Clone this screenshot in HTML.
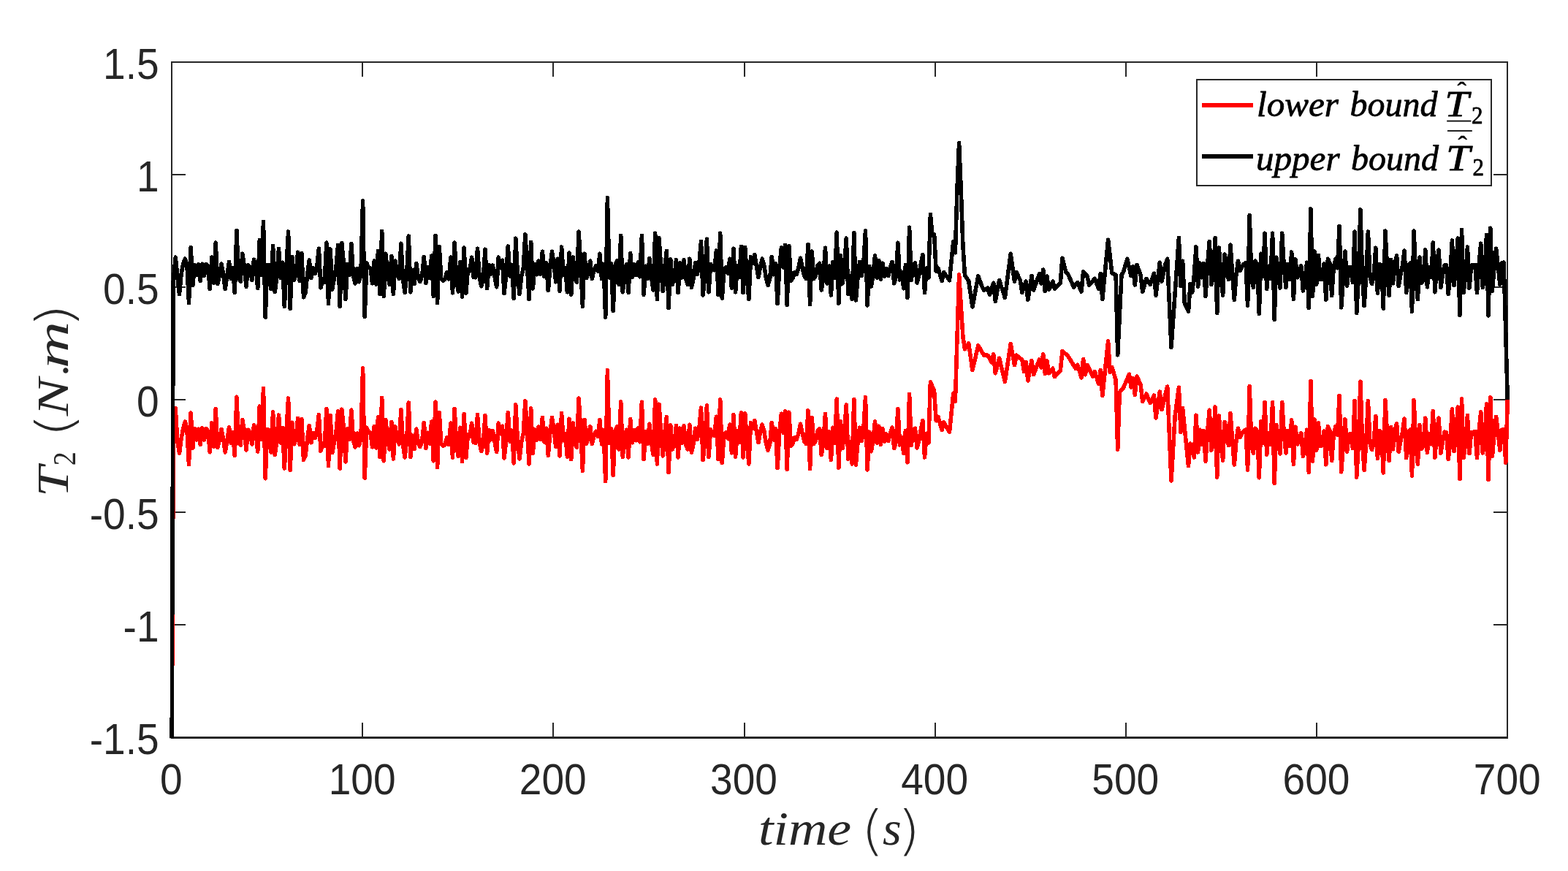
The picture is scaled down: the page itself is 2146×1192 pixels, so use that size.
<!DOCTYPE html>
<html>
<head>
<meta charset="utf-8">
<title>T2 bounds</title>
<style>
html,body{margin:0;padding:0;background:#fff;}
body{width:2146px;height:1192px;}
svg{display:block;}
.tick{font-family:"Liberation Sans",sans-serif;font-size:58px;fill:#262626;}
.it{font-family:"Liberation Serif",serif;font-style:italic;fill:#262626;}
.pa{font-family:"DejaVu Sans",sans-serif;font-weight:200;font-style:normal;fill:#262626;}
.rm{font-family:"Liberation Serif",serif;font-style:normal;fill:#262626;}
.leg{fill:#000;stroke:#000;stroke-width:0.8px;stroke-linejoin:round;}
#xlabel,#ylabel{stroke:none;}
.leg.hat{stroke-width:0.5px;}
</style>
</head>
<body>
<svg width="2146" height="1192" viewBox="0 0 2146 1192">
<rect x="0" y="0" width="2146" height="1192" fill="#fff"/>
<defs><clipPath id="ax"><rect x="225" y="80" width="1850" height="930.2"/></clipPath></defs>
<!-- axes box -->
<g stroke="#262626" stroke-width="2" fill="none" stroke-linecap="butt" shape-rendering="crispEdges">
<rect x="235" y="85" width="1828.3" height="924"/>
<path d="M234 1010.5H2064.3" stroke-width="1"/>
<!-- x ticks bottom/top -->
<path d="M496.2 1009v-20M757.4 1009v-20M1018.6 1009v-20M1279.7 1009v-20M1540.9 1009v-20M1802.1 1009v-20"/>
<path d="M496.2 85v20M757.4 85v20M1018.6 85v20M1279.7 85v20M1540.9 85v20M1802.1 85v20"/>
<!-- y ticks left/right -->
<path d="M235 239h19M235 393h19M235 547h19M235 701h19M235 855h19"/>
<path d="M2063.3 239h-19M2063.3 393h-19M2063.3 547h-19M2063.3 701h-19M2063.3 855h-19"/>
</g>
<!-- data -->
<g clip-path="url(#ax)" fill="none" stroke-width="5.56" stroke-linejoin="round" stroke-linecap="butt" shape-rendering="crispEdges">
<polyline stroke="#ff0000" points="236.0,911.3 237.2,588.0 240.2,558.6 242.8,603.5 245.5,620.3 248.1,600.2 250.7,586.2 253.3,577.1 255.9,587.1 258.5,635.7 261.2,564.9 263.8,613.3 266.4,586.6 269.0,601.8 271.6,587.3 274.2,608.4 276.8,585.9 279.5,602.0 282.1,586.5 284.7,590.0 287.3,618.9 289.9,578.9 292.5,611.1 295.2,559.7 297.8,612.4 300.4,601.8 303.0,587.4 305.6,600.1 308.2,618.9 310.9,602.7 313.5,584.7 316.1,606.7 318.7,591.9 321.3,623.5 323.9,543.2 326.5,605.0 329.2,609.2 331.8,574.3 334.4,589.5 337.0,615.9 339.6,588.1 342.2,591.3 344.9,607.9 347.5,581.7 350.1,589.4 352.7,618.0 355.3,556.0 357.9,601.6 360.5,531.6 363.2,654.8 365.8,587.8 368.4,588.7 371.0,618.9 373.6,563.8 376.2,622.8 378.9,603.3 381.5,568.0 384.1,606.0 386.7,585.4 389.3,641.1 391.9,591.3 394.6,545.0 397.2,643.7 399.8,578.2 402.4,607.9 405.0,601.3 407.6,572.4 410.2,608.5 412.9,573.7 415.5,629.4 418.1,623.5 420.7,600.7 423.3,582.4 425.9,605.8 428.6,592.4 431.2,599.4 433.8,589.8 436.4,567.7 439.0,617.2 441.6,606.7 444.2,610.5 446.9,559.7 449.5,637.6 452.1,568.4 454.7,619.6 457.3,606.2 459.9,592.0 462.6,562.9 465.2,641.1 467.8,560.1 470.4,586.0 473.0,632.0 475.6,586.8 478.3,601.5 480.9,561.1 483.5,602.7 486.1,611.8 488.7,593.0 491.3,609.8 493.9,601.0 496.6,503.7 499.2,654.1 501.8,585.2 504.4,592.2 507.0,592.1 509.6,611.8 512.3,583.4 514.9,613.1 517.5,570.7 520.1,625.4 522.7,544.3 525.3,630.8 527.9,574.3 530.6,601.6 533.2,615.1 535.8,577.4 538.4,628.1 541.0,583.9 543.6,601.5 546.3,607.8 548.9,560.7 551.5,608.6 554.1,626.0 556.7,601.7 559.3,550.9 561.9,625.3 564.6,596.1 567.2,614.4 569.8,587.0 572.4,606.4 575.0,611.3 577.6,603.6 580.3,578.4 582.9,613.5 585.5,592.2 588.1,606.8 590.7,577.0 593.3,630.8 596.0,550.0 598.6,639.6 601.2,564.8 603.8,607.2 606.4,610.3 609.0,608.6 611.6,598.8 614.3,608.3 616.9,579.1 619.5,626.3 622.1,559.6 624.7,608.4 627.3,624.6 630.0,585.2 632.6,631.7 635.2,566.4 637.8,626.7 640.4,594.8 643.0,597.4 645.6,579.1 648.3,605.6 650.9,606.2 653.5,567.5 656.1,604.3 658.7,617.6 661.3,607.8 664.0,568.5 666.6,620.3 669.2,588.8 671.8,601.7 674.4,589.7 677.0,604.7 679.7,618.5 682.3,579.1 684.9,592.9 687.5,583.2 690.1,627.1 692.7,602.4 695.3,564.5 698.0,604.2 700.6,589.3 703.2,633.9 705.8,553.9 708.4,601.8 711.0,628.1 713.7,604.7 716.3,593.0 718.9,548.8 721.5,590.1 724.1,634.9 726.7,558.9 729.3,620.6 732.0,588.0 734.6,602.2 737.2,583.9 739.8,601.5 742.4,571.3 745.0,605.0 747.7,586.1 750.3,623.3 752.9,592.3 755.5,571.3 758.1,588.4 760.7,611.7 763.3,581.1 766.0,624.0 768.6,565.5 771.2,602.9 773.8,593.4 776.4,625.3 779.0,573.2 781.7,628.7 784.3,579.1 786.9,607.8 789.5,612.4 792.1,545.0 794.7,587.8 797.4,644.4 800.0,574.3 802.6,607.1 805.2,598.7 807.8,583.9 810.4,607.6 813.0,595.4 815.7,590.2 818.3,597.4 820.9,574.3 823.5,607.9 826.1,588.3 828.7,658.7 831.4,506.7 834.0,606.4 836.6,587.0 839.2,650.6 841.8,590.1 844.4,583.9 847.0,615.1 849.7,550.0 852.3,625.3 854.9,600.2 857.5,588.1 860.1,626.0 862.7,573.6 865.4,605.9 868.0,588.5 870.6,602.8 873.2,585.9 875.8,604.9 878.4,550.2 881.1,628.7 883.7,590.6 886.3,607.6 888.9,580.2 891.5,606.1 894.1,622.6 896.7,547.0 899.4,634.9 902.0,553.2 904.6,592.1 907.2,624.0 909.8,592.1 912.4,570.5 915.1,646.5 917.7,581.8 920.3,615.1 922.9,607.0 925.5,582.5 928.1,626.0 930.7,586.1 933.4,606.3 936.0,582.5 938.6,608.4 941.2,615.1 943.8,581.1 946.4,619.2 949.1,607.3 951.7,586.2 954.3,601.5 956.9,587.0 959.5,558.0 962.1,629.4 964.8,604.0 967.4,554.8 970.0,625.3 972.6,587.7 975.2,594.8 977.8,596.1 980.4,570.2 983.1,628.7 985.7,547.0 988.3,633.5 990.9,595.4 993.5,591.9 996.1,600.1 998.8,581.1 1001.4,619.9 1004.0,567.5 1006.6,625.3 1009.2,589.8 1011.8,605.6 1014.4,564.8 1017.1,626.0 1019.7,565.7 1022.3,605.2 1024.9,634.9 1027.5,578.4 1030.1,586.7 1032.8,575.4 1035.4,590.8 1038.0,605.6 1040.6,591.5 1043.2,581.1 1045.8,590.1 1048.4,606.4 1051.1,616.2 1053.7,607.3 1056.3,578.4 1058.9,602.1 1061.5,586.9 1064.1,640.7 1066.8,592.1 1069.4,566.1 1072.0,592.4 1074.6,562.7 1077.2,642.4 1079.8,564.1 1082.5,610.3 1085.1,606.8 1087.7,598.9 1090.3,601.5 1092.9,593.0 1095.5,580.2 1098.1,592.6 1100.8,604.0 1103.4,607.6 1106.0,561.8 1108.6,641.7 1111.2,571.3 1113.8,607.6 1116.5,603.0 1119.1,589.7 1121.7,587.0 1124.3,622.6 1126.9,604.7 1129.5,566.5 1132.1,613.7 1134.8,590.7 1137.4,629.4 1140.0,585.2 1142.6,606.4 1145.2,546.1 1147.8,640.3 1150.5,576.8 1153.1,613.7 1155.7,588.7 1158.3,553.9 1160.9,628.1 1163.5,604.3 1166.2,634.9 1168.8,546.4 1171.4,636.2 1174.0,605.5 1176.6,585.2 1179.2,603.5 1181.8,588.0 1184.5,543.6 1187.1,643.1 1189.7,591.1 1192.3,617.8 1194.9,603.4 1197.5,576.8 1200.2,606.2 1202.8,583.2 1205.4,608.5 1208.0,586.6 1210.6,604.2 1213.2,594.1 1215.8,603.5 1218.5,592.5 1221.1,585.2 1223.7,613.7 1226.3,604.9 1228.9,559.7 1231.5,609.0 1234.2,598.8 1236.8,620.6 1239.4,589.3 1242.0,632.8 1244.6,539.3 1247.2,609.7 1249.9,588.2 1252.5,586.3 1255.1,613.1 1257.7,603.0 1260.3,588.0 1262.9,575.4 1265.5,626.0 1268.2,593.4 1270.8,606.2 1273.4,522.9 1278.6,534.6 1281.2,575.9 1283.9,570.3 1289.1,588.5 1291.7,578.0 1299.5,591.3 1304.8,538.1 1307.4,549.3 1312.6,375.7 1317.9,461.0 1320.5,477.9 1325.7,470.1 1330.9,506.6 1338.8,472.9 1346.6,486.2 1351.9,486.2 1357.1,496.1 1359.7,484.8 1362.3,510.8 1367.6,490.1 1375.4,522.4 1383.2,470.8 1388.5,499.6 1391.1,486.2 1398.9,492.5 1401.6,508.7 1404.2,495.3 1406.8,521.0 1412.0,493.5 1414.6,512.6 1422.5,492.1 1425.1,503.1 1427.7,484.8 1430.3,511.5 1432.9,493.9 1435.6,510.8 1440.8,504.2 1443.4,515.7 1451.3,507.3 1453.9,480.3 1461.7,487.3 1472.2,504.5 1474.8,499.2 1480.0,516.8 1482.6,491.5 1485.3,512.9 1487.9,499.5 1495.7,515.0 1498.3,508.4 1503.6,525.5 1506.2,506.5 1508.8,541.6 1516.6,466.9 1519.3,509.6 1521.9,502.5 1527.1,520.1 1529.7,615.1 1532.3,536.9 1537.6,530.5 1545.4,512.3 1548.0,529.9 1550.6,517.9 1553.3,540.4 1555.9,515.1 1561.1,526.3 1563.7,549.5 1569.0,539.0 1574.2,551.6 1579.4,541.1 1582.0,571.9 1587.3,536.1 1589.9,560.7 1597.7,529.1 1603.0,658.0 1608.2,569.1 1613.4,530.1 1616.0,591.5 1618.6,558.6 1626.5,637.7 1629.1,607.1 1631.7,615.6 1634.3,626.1 1637.0,568.2 1639.6,618.9 1642.2,588.2 1644.8,608.1 1647.4,589.5 1650.0,631.4 1652.7,589.4 1655.3,561.2 1657.9,616.2 1660.5,607.1 1663.1,556.9 1665.7,653.1 1668.3,569.1 1671.0,604.1 1673.6,630.3 1676.2,577.7 1678.8,591.2 1681.4,609.7 1684.0,565.6 1686.7,603.7 1689.3,636.0 1691.9,604.1 1694.5,586.2 1697.1,598.5 1699.7,593.4 1702.3,590.2 1705.0,587.9 1707.6,643.2 1710.2,528.3 1712.8,610.5 1715.4,620.2 1718.0,586.2 1720.7,589.9 1723.3,653.8 1725.9,577.0 1728.5,606.4 1731.1,550.6 1733.7,622.1 1736.4,592.6 1739.0,608.3 1741.6,550.6 1744.2,661.6 1746.8,581.6 1749.4,606.1 1752.0,620.8 1754.7,550.6 1757.3,593.5 1759.9,620.1 1762.5,589.6 1765.1,610.4 1767.7,575.0 1770.4,635.3 1773.0,584.2 1775.6,608.0 1778.2,600.4 1780.8,592.8 1783.4,624.4 1786.0,610.2 1788.7,588.2 1791.3,646.5 1793.9,521.3 1796.5,631.3 1799.1,573.9 1801.7,616.2 1804.4,578.9 1807.0,610.5 1809.6,609.6 1812.2,589.9 1814.8,635.9 1817.4,583.6 1820.0,588.8 1822.7,630.7 1825.3,594.0 1827.9,583.6 1830.5,595.1 1833.1,541.4 1835.7,645.8 1838.4,609.4 1841.0,573.9 1843.6,618.2 1846.2,594.3 1848.8,594.1 1851.4,613.6 1854.1,548.6 1856.7,653.1 1859.3,608.3 1861.9,522.2 1864.5,603.3 1867.1,643.8 1869.7,605.4 1872.4,548.6 1875.0,607.0 1877.6,615.5 1880.2,605.6 1882.8,569.5 1885.4,627.4 1888.1,589.6 1890.7,592.1 1893.3,647.1 1895.9,547.7 1898.5,594.0 1901.1,630.7 1903.7,584.6 1906.4,614.9 1909.0,588.8 1911.6,579.6 1914.2,618.2 1916.8,604.7 1919.4,591.7 1922.1,573.0 1924.7,626.7 1927.3,592.1 1929.9,588.2 1932.5,651.1 1935.1,547.7 1937.8,609.2 1940.4,635.3 1943.0,581.6 1945.6,614.2 1948.2,610.2 1950.8,572.1 1953.4,619.5 1956.1,593.7 1958.7,607.8 1961.3,562.7 1963.9,626.1 1966.5,591.4 1969.1,572.1 1971.8,620.1 1974.4,604.6 1977.0,591.2 1979.6,591.7 1982.2,628.7 1984.8,604.6 1987.4,559.8 1990.1,617.5 1992.7,592.5 1995.3,557.2 1997.9,655.7 2000.5,546.0 2003.1,626.7 2005.8,605.1 2008.4,568.4 2011.0,620.7 2013.6,591.4 2016.2,591.4 2018.8,590.6 2021.5,626.7 2024.1,590.3 2026.7,563.8 2029.3,620.1 2031.9,608.3 2034.5,552.6 2037.1,656.3 2039.8,544.0 2042.4,624.7 2045.0,594.6 2047.6,570.4 2050.2,591.4 2052.8,616.1 2055.5,588.0 2058.1,588.1 2060.8,633.0 2063.3,547.0"/>
<polyline stroke="#000000" points="235.2,1012.0 237.2,385.0 240.2,352.1 242.8,378.3 245.5,402.6 248.1,375.0 250.7,361.0 253.3,354.2 255.9,361.8 258.5,414.5 261.2,338.8 263.8,390.7 266.4,362.6 269.0,376.6 271.6,362.0 274.2,384.4 276.8,361.2 279.5,377.4 282.1,361.3 284.7,364.0 287.3,395.6 289.9,352.1 292.5,387.2 295.2,332.1 297.8,388.6 300.4,376.6 303.0,361.2 305.6,374.9 308.2,395.6 310.9,377.4 313.5,358.4 316.1,381.5 318.7,366.6 321.3,400.5 323.9,315.3 326.5,379.8 329.2,385.1 331.8,347.2 334.4,364.2 337.0,392.4 339.6,362.9 342.2,365.4 344.9,383.7 347.5,355.2 350.1,364.1 352.7,394.6 355.3,328.3 357.9,376.4 360.5,303.4 363.2,434.1 365.8,362.6 368.4,362.6 371.0,395.6 373.6,336.3 376.2,399.8 378.9,378.0 381.5,340.5 384.1,380.8 386.7,359.1 389.3,419.4 391.9,366.1 394.6,317.1 397.2,422.2 399.8,351.4 402.4,383.7 405.0,376.1 407.6,345.1 410.2,384.4 412.9,346.5 415.5,406.8 418.1,400.5 420.7,375.5 423.3,355.9 425.9,380.5 428.6,366.9 431.2,374.6 433.8,364.5 436.4,340.2 439.0,393.8 441.6,381.4 444.2,386.5 446.9,332.1 449.5,415.7 452.1,340.9 454.7,396.3 457.3,381.0 459.9,366.8 462.6,335.3 465.2,419.4 467.8,332.5 470.4,360.8 473.0,409.6 475.6,361.5 478.3,376.3 480.9,333.5 483.5,377.5 486.1,387.9 488.7,367.3 491.3,385.8 493.9,375.8 496.6,274.9 499.2,433.4 501.8,359.9 504.4,366.4 507.0,366.9 509.6,387.9 512.3,357.0 514.9,389.3 517.5,343.3 520.1,402.6 522.7,316.4 525.3,405.4 527.9,347.2 530.6,375.2 533.2,389.3 535.8,350.5 538.4,402.6 541.0,357.0 543.6,375.3 546.3,381.4 548.9,333.2 551.5,382.2 554.1,400.5 556.7,375.3 559.3,323.1 561.9,399.8 564.6,369.7 567.2,388.6 569.8,360.3 572.4,380.0 575.0,385.4 577.6,377.3 580.3,351.4 582.9,387.6 585.5,365.8 588.1,380.4 590.7,350.0 593.3,405.4 596.0,322.3 598.6,414.5 601.2,337.4 603.8,380.8 606.4,384.4 609.0,382.2 611.6,372.5 614.3,382.0 616.9,352.1 619.5,400.8 622.1,332.1 624.7,382.0 627.3,399.1 630.0,358.4 632.6,406.4 635.2,339.1 637.8,401.2 640.4,368.3 643.0,371.1 645.6,352.1 648.3,379.5 650.9,379.8 653.5,340.2 656.1,377.9 658.7,391.8 661.3,381.5 664.0,341.2 666.6,394.6 669.2,362.4 671.8,375.3 674.4,363.1 677.0,378.3 679.7,392.8 682.3,352.1 684.9,366.6 687.5,356.3 690.1,401.6 692.7,376.0 695.3,337.1 698.0,378.1 700.6,362.6 703.2,408.6 705.8,326.2 708.4,375.4 711.0,402.6 713.7,378.3 716.3,366.7 718.9,321.0 721.5,363.7 724.1,409.6 726.7,331.4 729.3,394.9 732.0,361.6 734.6,375.8 737.2,357.0 739.8,375.3 742.4,344.2 745.0,378.7 747.7,359.7 750.3,397.7 752.9,365.9 755.5,344.2 758.1,362.0 760.7,385.8 763.3,354.2 766.0,398.4 768.6,338.1 771.2,376.5 773.8,367.1 776.4,399.8 779.0,346.1 781.7,403.3 784.3,352.1 786.9,381.4 789.5,386.5 792.1,317.1 794.7,361.4 797.4,419.4 800.0,347.2 802.6,380.7 805.2,372.5 807.8,357.0 810.4,381.6 813.0,369.0 815.7,363.8 818.3,371.1 820.9,347.2 823.5,381.5 826.1,361.9 828.7,434.1 831.4,270.7 834.0,380.0 836.6,360.6 839.2,425.7 841.8,363.7 844.4,357.0 847.0,389.3 849.7,322.3 852.3,399.8 854.9,373.9 857.5,361.7 860.1,400.5 862.7,346.5 865.4,379.5 868.0,362.1 870.6,376.7 873.2,359.1 875.8,378.8 878.4,322.4 881.1,403.3 883.7,364.2 886.3,381.3 888.9,353.3 891.5,379.8 894.1,397.0 896.7,319.2 899.4,409.6 902.0,325.5 904.6,365.7 907.2,398.4 909.8,365.7 912.4,343.3 915.1,421.5 917.7,354.9 920.3,389.3 922.9,380.7 925.5,355.6 928.1,400.5 930.7,359.7 933.4,380.0 936.0,355.6 938.6,382.1 941.2,389.3 943.8,354.2 946.4,393.5 949.1,380.9 951.7,359.4 954.3,375.3 956.9,360.7 959.5,330.4 962.1,404.0 964.8,377.6 967.4,327.2 970.0,399.8 972.6,361.3 975.2,368.3 977.8,369.7 980.4,343.0 983.1,403.3 985.7,319.2 988.3,408.2 990.9,369.0 993.5,365.6 996.1,373.9 998.8,354.2 1001.4,394.2 1004.0,340.2 1006.6,399.8 1009.2,363.4 1011.8,379.2 1014.4,337.4 1017.1,400.5 1019.7,338.4 1022.3,378.8 1024.9,409.6 1027.5,351.4 1030.1,360.4 1032.8,348.4 1035.4,364.4 1038.0,379.5 1040.6,365.1 1043.2,354.2 1045.8,363.7 1048.4,380.0 1051.1,390.4 1053.7,381.0 1056.3,351.4 1058.9,375.8 1061.5,360.5 1064.1,415.7 1066.8,365.7 1069.4,338.8 1072.0,366.0 1074.6,335.3 1077.2,417.3 1079.8,336.7 1082.5,384.4 1085.1,380.4 1087.7,372.5 1090.3,375.3 1092.9,366.6 1095.5,353.3 1098.1,366.2 1100.8,377.6 1103.4,381.6 1106.0,334.3 1108.6,416.6 1111.2,344.2 1113.8,381.6 1116.5,376.6 1119.1,363.3 1121.7,360.3 1124.3,397.0 1126.9,378.4 1129.5,339.2 1132.1,387.9 1134.8,364.0 1137.4,404.0 1140.0,358.4 1142.6,380.1 1145.2,318.2 1147.8,415.2 1150.5,349.8 1153.1,387.9 1155.7,362.4 1158.3,326.2 1160.9,402.6 1163.5,378.1 1166.2,409.6 1168.8,318.5 1171.4,411.0 1174.0,379.1 1176.6,358.4 1179.2,377.4 1181.8,361.6 1184.5,315.7 1187.1,418.0 1189.7,364.5 1192.3,392.1 1194.9,377.0 1197.5,349.8 1200.2,380.2 1202.8,356.3 1205.4,382.2 1208.0,360.2 1210.6,378.1 1213.2,367.5 1215.8,377.4 1218.5,366.1 1221.1,358.4 1223.7,387.9 1226.3,378.6 1228.9,332.2 1231.5,383.0 1234.2,372.5 1236.8,394.9 1239.4,362.6 1242.0,407.5 1244.6,311.2 1247.2,383.7 1249.9,361.9 1252.5,359.6 1255.1,387.2 1257.7,376.6 1260.3,361.6 1262.9,348.4 1265.5,400.5 1268.2,366.8 1270.8,380.2 1273.4,293.3 1276.0,322.0 1278.6,320.6 1281.2,371.1 1283.9,366.8 1289.1,384.4 1291.7,372.5 1299.5,383.7 1304.8,330.4 1307.4,345.9 1310.0,258.0 1312.6,195.6 1315.2,258.0 1317.9,336.0 1320.5,376.7 1325.7,384.4 1330.9,420.1 1338.8,377.8 1344.0,392.1 1346.6,397.0 1351.9,394.2 1354.5,403.3 1359.7,387.2 1362.3,412.4 1367.6,383.4 1375.4,407.5 1383.2,347.2 1388.5,385.1 1391.1,372.5 1396.3,383.7 1398.9,400.5 1404.2,385.1 1406.8,410.3 1412.0,377.4 1414.6,397.0 1422.5,374.6 1425.1,387.9 1427.7,369.0 1430.3,398.5 1432.9,378.1 1435.6,396.4 1440.8,385.1 1443.4,395.0 1451.3,387.3 1453.9,353.2 1459.1,373.2 1461.7,375.3 1469.6,392.9 1474.8,386.5 1480.0,399.2 1482.6,371.5 1487.9,377.4 1490.5,390.1 1498.3,381.3 1503.6,395.0 1506.2,374.3 1508.8,409.4 1516.6,328.1 1521.9,373.9 1527.1,376.0 1529.7,485.8 1535.0,376.0 1537.6,371.8 1542.8,354.3 1548.0,377.5 1550.6,364.8 1553.3,390.1 1555.9,362.4 1561.1,376.0 1563.7,399.2 1569.0,381.3 1574.2,389.4 1579.4,374.3 1582.0,404.4 1587.3,359.2 1589.9,385.2 1595.1,361.3 1597.7,354.3 1603.0,475.5 1613.4,325.3 1616.0,391.5 1618.6,357.1 1621.3,415.3 1626.5,426.2 1629.1,388.4 1631.7,399.9 1634.3,376.7 1637.0,337.9 1639.6,392.2 1642.2,360.1 1644.8,379.9 1647.4,360.6 1650.0,405.5 1652.7,361.2 1655.3,330.5 1657.9,389.4 1660.5,379.0 1663.1,325.9 1665.7,428.6 1668.3,338.9 1671.0,375.9 1673.6,404.4 1676.2,348.0 1678.8,363.1 1681.4,382.4 1684.0,335.1 1686.7,375.6 1689.3,410.4 1691.9,375.9 1694.5,357.1 1697.1,370.5 1699.7,365.3 1702.3,361.3 1705.0,359.7 1707.6,418.1 1710.2,294.3 1712.8,382.3 1715.4,393.6 1718.0,357.1 1720.7,361.8 1723.3,429.3 1725.9,347.2 1728.5,378.3 1731.1,319.2 1733.7,395.6 1736.4,364.1 1739.0,380.9 1741.6,319.2 1744.2,437.7 1746.8,352.1 1749.4,378.0 1752.0,394.2 1754.7,319.2 1757.3,365.4 1759.9,393.5 1762.5,361.5 1765.1,382.3 1767.7,345.1 1770.4,409.6 1773.0,354.9 1775.6,379.9 1778.2,372.5 1780.8,364.0 1783.4,398.0 1786.0,382.0 1788.7,359.1 1791.3,421.5 1793.9,285.9 1796.5,405.4 1799.1,344.0 1801.7,389.3 1804.4,349.3 1807.0,382.4 1809.6,382.3 1812.2,361.0 1814.8,410.3 1817.4,354.2 1820.0,360.6 1822.7,404.7 1825.3,365.8 1827.9,354.2 1830.5,366.9 1833.1,309.4 1835.7,420.8 1838.4,381.3 1841.0,344.0 1843.6,391.4 1846.2,366.2 1848.8,365.4 1851.4,386.5 1854.1,317.1 1856.7,428.5 1859.3,380.2 1861.9,287.0 1864.5,375.2 1867.1,418.7 1869.7,377.2 1872.4,317.1 1875.0,378.9 1877.6,388.6 1880.2,377.5 1882.8,339.2 1885.4,401.2 1888.1,361.5 1890.7,363.3 1893.3,422.2 1895.9,316.1 1898.5,365.9 1901.1,404.7 1903.7,355.4 1906.4,387.9 1909.0,360.6 1911.6,350.0 1914.2,391.4 1916.8,376.5 1919.4,363.6 1922.1,343.0 1924.7,400.5 1927.3,363.3 1929.9,360.0 1932.5,426.4 1935.1,316.1 1937.8,381.1 1940.4,409.6 1943.0,352.1 1945.6,387.2 1948.2,382.1 1950.8,342.0 1953.4,392.8 1956.1,365.6 1958.7,379.7 1961.3,332.1 1963.9,399.8 1966.5,363.2 1969.1,342.0 1971.8,393.5 1974.4,376.4 1977.0,363.1 1979.6,362.9 1982.2,402.6 1984.8,376.5 1987.4,329.0 1990.1,390.7 1992.7,364.3 1995.3,326.2 1997.9,431.3 2000.5,314.3 2003.1,400.5 2005.8,376.9 2008.4,338.1 2011.0,394.2 2013.6,363.3 2016.2,362.6 2018.8,362.4 2021.5,400.5 2024.1,362.2 2026.7,333.2 2029.3,393.5 2031.9,380.1 2034.5,321.3 2037.1,432.0 2039.8,312.2 2042.4,398.4 2045.0,366.5 2047.6,340.2 2050.2,363.2 2052.8,389.3 2055.5,359.8 2058.1,359.1 2063.3,547.0"/>
</g>
<!-- tick labels -->
<g class="tick">
<text transform="translate(234.4,1086.6) scale(0.95,1.012)" text-anchor="middle">0</text>
<text transform="translate(495.6,1086.6) scale(0.95,1.012)" text-anchor="middle">100</text>
<text transform="translate(756.8,1086.6) scale(0.95,1.012)" text-anchor="middle">200</text>
<text transform="translate(1018.0,1086.6) scale(0.95,1.012)" text-anchor="middle">300</text>
<text transform="translate(1279.1,1086.6) scale(0.95,1.012)" text-anchor="middle">400</text>
<text transform="translate(1540.3,1086.6) scale(0.95,1.012)" text-anchor="middle">500</text>
<text transform="translate(1801.5,1086.6) scale(0.95,1.012)" text-anchor="middle">600</text>
<text transform="translate(2062.7,1086.6) scale(0.95,1.012)" text-anchor="middle">700</text>
<text transform="translate(217.6,107.8) scale(0.95,1.012)" text-anchor="end">1.5</text>
<text transform="translate(217.6,261.8) scale(0.95,1.012)" text-anchor="end">1</text>
<text transform="translate(217.6,415.8) scale(0.95,1.012)" text-anchor="end">0.5</text>
<text transform="translate(217.6,569.8) scale(0.95,1.012)" text-anchor="end">0</text>
<text transform="translate(217.6,723.8) scale(0.95,1.012)" text-anchor="end">-0.5</text>
<text transform="translate(217.6,877.8) scale(0.95,1.012)" text-anchor="end">-1</text>
<text transform="translate(217.6,1031.8) scale(0.95,1.012)" text-anchor="end">-1.5</text>
</g>
<!-- x label -->
<text id="xlabel"><tspan class="it" x="1037.9" y="1156" font-size="66" textLength="127.3" lengthAdjust="spacingAndGlyphs">time</tspan> <tspan class="pa" x="1178.2" y="1161.5" font-size="72.1" textLength="31.8" lengthAdjust="spacingAndGlyphs">(</tspan><tspan class="it" x="1208" y="1156" font-size="66">s</tspan><tspan class="pa" x="1228" y="1161.5" font-size="72.1" textLength="31.8" lengthAdjust="spacingAndGlyphs">)</tspan></text>
<!-- y label -->
<text id="ylabel" transform="translate(93.4,675.3) rotate(-90)"><tspan class="it" x="-5" y="0" font-size="62" textLength="42" lengthAdjust="spacingAndGlyphs">T</tspan><tspan class="rm" x="38" y="9.4" font-size="44" textLength="19" lengthAdjust="spacingAndGlyphs">2</tspan> <tspan class="pa" x="76.4" y="6" font-size="69.7" textLength="33.2" lengthAdjust="spacingAndGlyphs">(</tspan><tspan class="it" x="106" y="0" font-size="62" textLength="51.5" lengthAdjust="spacingAndGlyphs">N</tspan><tspan class="it" x="162" y="0" font-size="62">.</tspan><tspan class="it" x="171.1" y="0" font-size="62" textLength="64.5" lengthAdjust="spacingAndGlyphs">m</tspan><tspan class="pa" x="226.7" y="6" font-size="69.7" textLength="33.2" lengthAdjust="spacingAndGlyphs">)</tspan></text>
<!-- legend -->
<g id="legend">
<rect x="1638" y="109" width="403" height="145" fill="#fff" stroke="#262626" stroke-width="2" shape-rendering="crispEdges"/>
<line x1="1645" y1="143.9" x2="1715.2" y2="143.9" stroke="#ff0000" stroke-width="6" shape-rendering="crispEdges"/>
<line x1="1645" y1="213.5" x2="1715.2" y2="213.5" stroke="#000" stroke-width="6" shape-rendering="crispEdges"/>
<text class="leg"><tspan class="it leg" x="1720" y="158.7" font-size="49.5" textLength="112" lengthAdjust="spacingAndGlyphs">lower</tspan> <tspan class="it leg" x="1847.5" y="158.7" font-size="49.5" textLength="120" lengthAdjust="spacingAndGlyphs">bound</tspan> <tspan class="it leg" x="1977.3" y="158.7" font-size="50" textLength="33" lengthAdjust="spacingAndGlyphs">T</tspan><tspan class="rm leg hat" x="1994.6" y="136" font-size="34" textLength="12.4" lengthAdjust="spacingAndGlyphs">ˆ</tspan><tspan class="rm leg" x="2014" y="169.3" font-size="34" textLength="15.5" lengthAdjust="spacingAndGlyphs">2</tspan></text>
<line x1="1980.2" y1="165.6" x2="2013.4" y2="165.6" stroke="#000" stroke-width="1.7"/>
<text class="leg"><tspan class="it leg" x="1719" y="232.5" font-size="49.5" textLength="114.5" lengthAdjust="spacingAndGlyphs">upper</tspan> <tspan class="it leg" x="1849" y="232.5" font-size="49.5" textLength="120" lengthAdjust="spacingAndGlyphs">bound</tspan> <tspan class="it leg" x="1979" y="232.5" font-size="50" textLength="33" lengthAdjust="spacingAndGlyphs">T</tspan><tspan class="rm leg hat" x="1995.6" y="210.3" font-size="34" textLength="12.4" lengthAdjust="spacingAndGlyphs">ˆ</tspan><tspan class="rm leg" x="2015.5" y="239.7" font-size="34" textLength="15.5" lengthAdjust="spacingAndGlyphs">2</tspan></text>
<line x1="1981" y1="179.2" x2="2014.8" y2="179.2" stroke="#000" stroke-width="1.7"/>
</g>
</svg>
</body>
</html>
